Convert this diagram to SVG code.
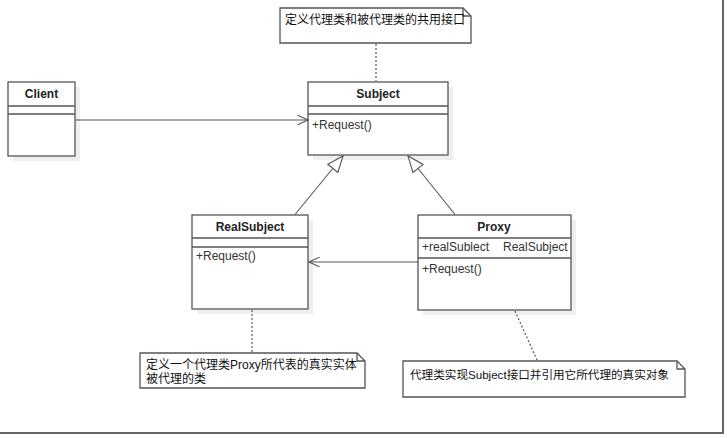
<svg xmlns="http://www.w3.org/2000/svg" width="727" height="438" viewBox="0 0 727 438">
<style>
.box{fill:#fff;stroke:#555;stroke-width:1.3}
.shadow{fill:#efefef}
.sep{stroke:#555;stroke-width:1.3}
.name{font-family:"Liberation Sans","Noto Sans CJK SC",sans-serif;font-size:12px;font-weight:bold;fill:#222;text-anchor:middle}
.mem{font-family:"Liberation Sans","Noto Sans CJK SC",sans-serif;font-size:12px;fill:#333}
.note{font-family:"Liberation Sans","Noto Sans CJK SC",sans-serif;font-size:12px;fill:#111}
.conn{stroke:#555;stroke-width:1.1;fill:none}
.dot{stroke:#555;stroke-width:1.2;stroke-dasharray:2 2;fill:none}
</style>
<defs>
<marker id="open" markerWidth="12" markerHeight="10" refX="11" refY="5" orient="auto" markerUnits="userSpaceOnUse">
<path d="M0,0 L11,5 L0,10" fill="none" stroke="#555" stroke-width="1.1"/>
</marker>
<marker id="tri" markerWidth="18" markerHeight="16" refX="17" refY="8" orient="auto" markerUnits="userSpaceOnUse">
<path d="M1,1.5 L17,8 L1,14.5 Z" fill="#fff" stroke="#555" stroke-width="1.1"/>
</marker>
</defs>
<rect width="727" height="438" fill="#fff"/>
<path d="M723,0 V433 H0" fill="none" stroke="#666" stroke-width="2"/>

<g id="note-top">
<path class="box" d="M280,8 H463 L471,16 V43 H280 Z"/>
<path class="sep" d="M463,8 V16 H471" fill="none"/>
<text class="note" x="285" y="24">定义代理类和被代理类的共用接口</text>
</g>

<g id="client">
<rect class="shadow" x="13" y="87" width="67" height="74"/>
<rect class="box" x="8" y="82" width="67" height="74"/>
<line class="sep" x1="8" y1="106" x2="75" y2="106"/>
<line class="sep" x1="8" y1="114" x2="75" y2="114"/>
<text class="name" x="41.5" y="98">Client</text>
</g>

<g id="subject">
<rect class="shadow" x="313" y="87" width="140" height="73"/>
<rect class="box" x="308" y="82" width="140" height="73"/>
<line class="sep" x1="308" y1="106" x2="448" y2="106"/>
<line class="sep" x1="308" y1="114" x2="448" y2="114"/>
<text class="name" x="378" y="98">Subject</text>
<text class="mem" x="312" y="129">+Request()</text>
</g>

<g id="realsubject">
<rect class="shadow" x="197" y="220" width="116" height="94"/>
<rect class="box" x="192" y="215" width="116" height="94"/>
<line class="sep" x1="192" y1="238" x2="308" y2="238"/>
<line class="sep" x1="192" y1="247" x2="308" y2="247"/>
<text class="name" x="250" y="231">RealSubject</text>
<text class="mem" x="196" y="260">+Request()</text>
</g>

<g id="proxy">
<rect class="shadow" x="423" y="220" width="153" height="95"/>
<rect class="box" x="418" y="215" width="153" height="95"/>
<line class="sep" x1="418" y1="238" x2="571" y2="238"/>
<line class="sep" x1="418" y1="258" x2="571" y2="258"/>
<text class="name" x="494" y="231">Proxy</text>
<text class="mem" x="422" y="251">+realSublect</text>
<text class="mem" x="503" y="251">RealSubject</text>
<text class="mem" x="422" y="273">+Request()</text>
</g>

<g id="note-realsubject">
<path class="box" d="M140,353 H357 L365,361 V388 H140 Z"/>
<path class="sep" d="M357,353 V361 H365" fill="none"/>
<text class="note" x="146" y="369">定义一个代理类Proxy所代表的真实实体</text>
<text class="note" x="146" y="383">被代理的类</text>
</g>

<g id="note-proxy">
<path class="box" d="M403,361 H677 L685,369 V397 H403 Z"/>
<path class="sep" d="M677,361 V369 H685" fill="none"/>
<text class="note" x="410" y="379" style="font-size:11.6px">代理类实现Subject接口并引用它所代理的真实对象</text>
</g>

<g id="connectors">
<line class="conn" x1="75.5" y1="120" x2="308" y2="120" marker-end="url(#open)"/>
<line class="conn" x1="418" y1="262" x2="309" y2="262" marker-end="url(#open)"/>
<line class="conn" x1="295" y1="214.5" x2="343" y2="156" marker-end="url(#tri)"/>
<line class="conn" x1="455" y1="214.5" x2="408" y2="156" marker-end="url(#tri)"/>
<line class="dot" x1="376" y1="44" x2="376" y2="81"/>
<line class="dot" x1="252" y1="310" x2="252" y2="352"/>
<line class="dot" x1="515" y1="311" x2="537" y2="360"/>
</g>
</svg>
